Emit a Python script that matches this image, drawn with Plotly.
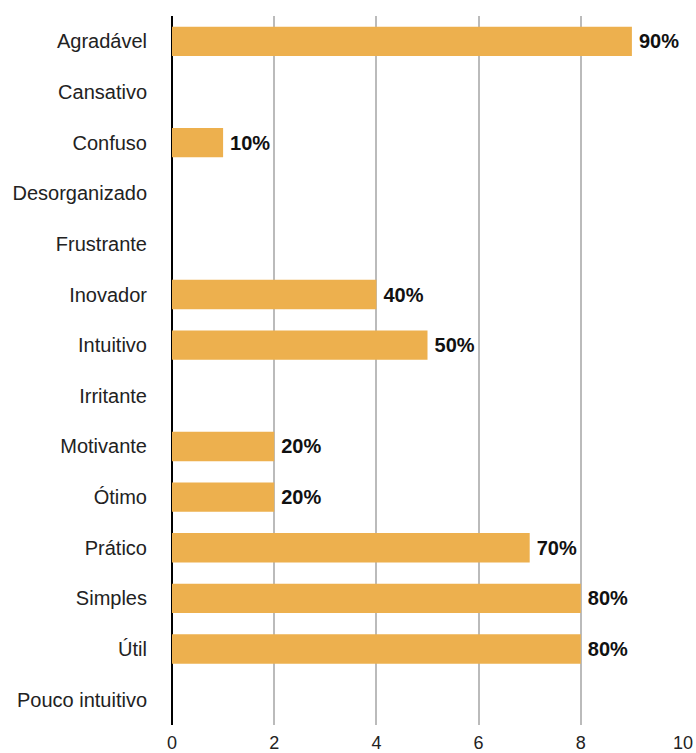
import plotly.graph_objects as go

categories = ["Agradável", "Cansativo", "Confuso", "Desorganizado", "Frustrante",
              "Inovador", "Intuitivo", "Irritante", "Motivante", "Ótimo",
              "Prático", "Simples", "Útil", "Pouco intuitivo"]
values = [9, 0, 1, 0, 0, 4, 5, 0, 2, 2, 7, 8, 8, 0]
labels = [f"\u2009{v*10}%" if v > 0 else "" for v in values]
x_ticks = [0, 2, 4, 6, 8, 10]

fig = go.Figure(go.Bar(
    y=categories, x=values, orientation="h",
    marker=dict(color="#EDB04E", line=dict(width=0)),
    text=labels, textposition="outside", cliponaxis=False,
    textfont=dict(family="Liberation Sans", size=20, color="#111111", weight="bold"),
))

fig.update_layout(
    width=696, height=753,
    margin=dict(l=172, r=13, t=16, b=28, autoexpand=False),
    plot_bgcolor="white", paper_bgcolor="white",
    bargap=0.42, showlegend=False,
    font=dict(family="Liberation Sans", size=20, color="#222222"),
    xaxis=dict(range=[0, 10], tickvals=x_ticks, showgrid=True, gridcolor="#BBBBBB",
               gridwidth=1.5, zeroline=True, zerolinecolor="#000000", zerolinewidth=2,
               showline=False, ticks="", tickfont=dict(size=18), automargin=False,
               ticklabelstandoff=5),
    yaxis=dict(categoryorder="array", categoryarray=categories, autorange="reversed",
               showgrid=False, ticks="", ticklabelstandoff=24, tickfont=dict(size=20),
               automargin=False),
)

fig.write_html(
    "out.html",
    config={"displayModeBar": False},
    post_script="document.body.style.margin='0';document.body.style.overflow='hidden';",
)
